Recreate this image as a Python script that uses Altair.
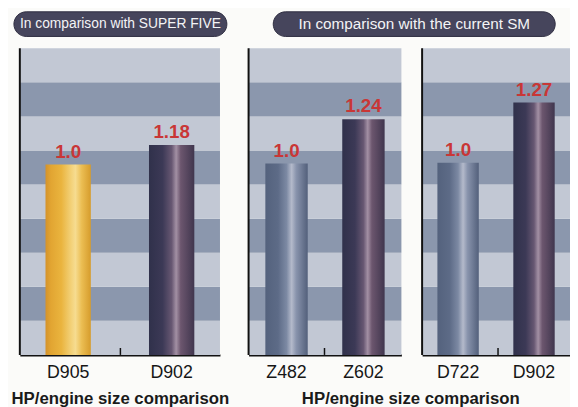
import altair as alt
import pandas as pd

# ---------------- data ----------------
p1_models = ["D905", "D902"]
p1_values = [1.0, 1.18]
p1_labels = ["1.0", "1.18"]
p1_styles = ["gold", "dark"]

p2_models = ["Z482", "Z602"]
p2_values = [1.0, 1.24]
p2_labels = ["1.0", "1.24"]
p2_styles = ["steel", "dark"]

p3_models = ["D722", "D902"]
p3_values = [1.0, 1.27]
p3_labels = ["1.0", "1.27"]
p3_styles = ["steel", "dark"]

header1 = "In comparison with SUPER FIVE"
header2 = "In comparison with the current SM"
footer = "HP/engine size comparison"

stripe_shades = ["light", "dark", "light", "dark", "light", "dark", "light", "dark", "light"]

# ---------------- style ----------------
PLOT_H = 311
LIGHT = "#c2c8d4"
DARK = "#8b97ad"
RED = "#c93636"
PILL = "#46455c"

def grad(stops):
    return alt.LinearGradient(
        gradient="linear", x1=0, x2=1, y1=0, y2=0,
        stops=[alt.GradientStop(color=c, offset=o) for o, c in stops])

GRADS = {
    "gold": grad([(0, "#d4922a"), (0.12, "#e2a532"), (0.35, "#eab43e"),
                  (0.55, "#f2cf74"), (0.66, "#f6dc90"), (0.8, "#ebbd52"),
                  (1, "#d69c2c")]),
    "steel": grad([(0, "#54627d"), (0.3, "#5d6b87"), (0.5, "#7c89a3"),
                   (0.62, "#b4bacb"), (0.73, "#8893ac"), (1, "#53607b")]),
    "dark": grad([(0, "#30314b"), (0.3, "#3c3956"), (0.5, "#675772"),
                  (0.6, "#a390a4"), (0.7, "#6c566e"), (1, "#40364e")]),
}

stripe_df = pd.DataFrame({
    "s0": list(range(len(stripe_shades))),
    "s1": [i + 1 for i in range(len(stripe_shades))],
    "shade": stripe_shades,
})


def panel(models, values, labels, styles, lo, hi, cw, width, pin, pout,
          tick_x, title=None, title_x=0, header=None, pill=None,
          header_size=14.5):
    df = pd.DataFrame({"model": models, "value": values,
                       "label": labels, "style": styles})
    axis = alt.Axis(
        labelFontSize=18, labelColor="#161616", labelFont="Liberation Sans",
        labelAngle=0, labelPadding=9, ticks=False, domain=True,
        domainColor="#111111", domainWidth=2, grid=False,
        title=title if title else None,
        titleFontSize=17, titleFont="Liberation Sans", titleFontWeight="bold",
        titleColor="#1a1a1a", titleX=title_x, titleY=49,
        titleBaseline="alphabetic", titleAlign="center")
    xenc = alt.X("model:N", sort=models,
                 scale=alt.Scale(range=[0, cw], paddingInner=pin, paddingOuter=pout),
                 axis=axis)
    yscale = alt.Scale(domain=[lo, hi], zero=False, nice=False)

    stripes = alt.Chart(stripe_df).mark_rect().encode(
        x=alt.value(0), x2=alt.value(cw),
        y=alt.Y("s0:Q", scale=alt.Scale(domain=[0, len(stripe_shades)]), axis=None),
        y2="s1:Q",
        color=alt.Color("shade:N", scale=alt.Scale(domain=["light", "dark"],
                                                   range=[LIGHT, DARK]), legend=None),
    )
    layers = [stripes]
    for st in ["gold", "steel", "dark"]:
        if st not in styles:
            continue
        layers.append(
            alt.Chart(df).transform_filter(alt.datum.style == st)
            .mark_bar(color=GRADS[st])
            .encode(x=xenc, y=alt.Y("value:Q", scale=yscale, axis=None),
                    y2=alt.Y2(datum=lo))
        )
    layers.append(
        alt.Chart(df).mark_text(fontSize=19, fontWeight="bold", color=RED,
                                font="Liberation Sans", baseline="alphabetic", dy=-7)
        .encode(x=xenc, y=alt.Y("value:Q", scale=yscale, axis=None), text="label:N")
    )
    # small inner tick and left frame line
    layers.append(
        alt.Chart(df.head(1)).mark_rule(color="#111111", strokeWidth=1.5)
        .encode(x=alt.value(tick_x), y=alt.value(PLOT_H - 7), y2=alt.value(PLOT_H))
    )
    layers.append(
        alt.Chart(df.head(1)).mark_rule(color="#111111", strokeWidth=2)
        .encode(x=alt.value(0), y=alt.value(0), y2=alt.value(PLOT_H))
    )
    if header:
        hdf = pd.DataFrame({"t": [header]})
        layers.append(
            alt.Chart(hdf).mark_rect(color=PILL, cornerRadius=13,
                                     stroke="#2e2d40", strokeWidth=1)
            .encode(x=alt.value(pill[0]), x2=alt.value(pill[1]),
                    y=alt.value(-37), y2=alt.value(-12))
        )
        layers.append(
            alt.Chart(hdf).mark_text(color="#f4f4f6", fontSize=header_size,
                                     font="Liberation Sans", baseline="middle",
                                     align="center")
            .encode(x=alt.value((pill[0] + pill[1]) / 2), y=alt.value(-24.5),
                    text="t:N")
        )
    return alt.layer(*layers).resolve_scale(y="independent").properties(
        width=width, height=PLOT_H)


p1 = panel(p1_models, p1_values, p1_labels, p1_styles, -0.737, 2.062,
           203, 211, 0.562, 0.248, 102, title=footer, title_x=101.5,
           header=header1, pill=(-6, 210), header_size=14)
p2 = panel(p2_models, p2_values, p2_labels, p2_styles, -0.035, 1.624,
           155, 155, 0.449, 0.218, 77, title=footer, title_x=164,
           header=header2, pill=(25, 311), header_size=15.5)
p3 = panel(p3_models, p3_values, p3_labels, p3_styles, 0.137, 1.514,
           150, 150, 0.455, 0.2015, 77)

chart = alt.hconcat(p1, p2, p3, spacing=21, bounds="flush").properties(
    background="#fbfbf9",
    padding={"left": 2, "top": 0, "right": 0, "bottom": 0},
).configure_view(stroke=None)

chart.save("out.html", embed_options={"renderer": "svg", "actions": False})
